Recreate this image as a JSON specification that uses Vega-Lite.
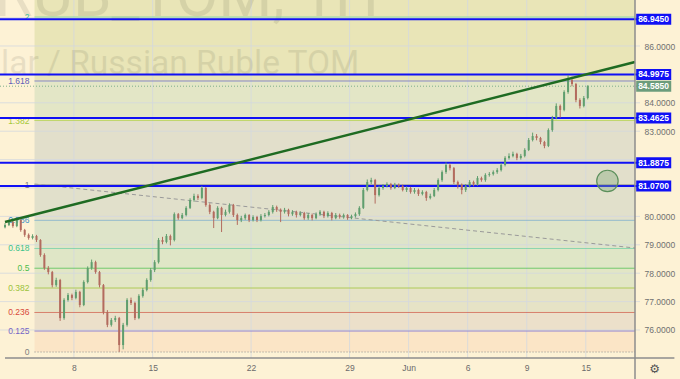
{
"$schema":"https://vega.github.io/schema/vega-lite/v6.json",
"width":640,"height":358,"autosize":"none",
"padding":{"left":0,"top":0,"right":40,"bottom":21},
"background":"#fdf2d5",
"config":{"view":{"stroke":null}},
"datasets":{
"one":[{}],
"bands":[
{"band":"b0","lo":75.225,"hi":75.962},
{"band":"b1","lo":75.962,"hi":76.617},
{"band":"b2","lo":76.617,"hi":77.478},
{"band":"b3","lo":77.478,"hi":78.174},
{"band":"b4","lo":78.174,"hi":78.870},
{"band":"b5","lo":78.870,"hi":79.861},
{"band":"b6","lo":79.861,"hi":81.123},
{"band":"b7","lo":81.123,"hi":83.376},
{"band":"b8","lo":83.376,"hi":84.768},
{"band":"b9","lo":84.768,"hi":87.62}
],
"fib":[
{"lvl":"0","p":75.225},
{"lvl":"0.125","p":75.962},
{"lvl":"0.236","p":76.617},
{"lvl":"0.382","p":77.478},
{"lvl":"0.5","p":78.174},
{"lvl":"0.618","p":78.870},
{"lvl":"0.786","p":79.861},
{"lvl":"1","p":81.123},
{"lvl":"1.382","p":83.376},
{"lvl":"1.618","p":84.768},
{"lvl":"2","p":87.021}
],
"dates":[
{"t":17.5,"lab":"8"},{"t":37.5,"lab":"15"},{"t":62.5,"lab":"22"},{"t":87.5,"lab":"29"},
{"t":102.5,"lab":"Jun"},{"t":117.5,"lab":"6"},{"t":132.5,"lab":"9"},{"t":147.5,"lab":"15"}
],
"grid":[{"p":76},{"p":77},{"p":78},{"p":79},{"p":80},{"p":81},{"p":82},{"p":83},{"p":84},{"p":85},{"p":86},{"p":87}],
"levels":[{"p":86.945},{"p":84.9975},{"p":83.4625},{"p":81.8875},{"p":81.07}],
"badges":[
{"p":86.945,"kind":"level"},{"p":84.9975,"kind":"level"},{"p":83.4625,"kind":"level"},
{"p":81.8875,"kind":"level"},{"p":81.07,"kind":"level"},{"p":84.585,"kind":"last"}
],
"candles":[
{"t":0,"o":79.62,"h":79.76,"l":79.58,"c":79.70},
{"t":1,"o":79.70,"h":79.86,"l":79.66,"c":79.80},
{"t":2,"o":79.80,"h":79.84,"l":79.60,"c":79.66},
{"t":3,"o":79.66,"h":79.92,"l":79.62,"c":79.87},
{"t":4,"o":79.87,"h":79.90,"l":79.46,"c":79.52},
{"t":5,"o":79.52,"h":79.56,"l":79.28,"c":79.35},
{"t":6,"o":79.35,"h":79.40,"l":79.18,"c":79.24},
{"t":7,"o":79.24,"h":79.37,"l":79.19,"c":79.31},
{"t":8,"o":79.31,"h":79.35,"l":79.10,"c":79.17},
{"t":9,"o":79.17,"h":79.20,"l":78.58,"c":78.64},
{"t":10,"o":78.64,"h":78.70,"l":78.12,"c":78.18},
{"t":11,"o":78.18,"h":78.25,"l":77.96,"c":78.04},
{"t":12,"o":78.04,"h":78.08,"l":77.50,"c":77.58},
{"t":13,"o":77.58,"h":77.84,"l":77.52,"c":77.76},
{"t":14,"o":77.76,"h":77.80,"l":76.32,"c":76.42},
{"t":15,"o":76.42,"h":77.12,"l":76.36,"c":77.06},
{"t":16,"o":77.06,"h":77.30,"l":77.00,"c":77.23},
{"t":17,"o":77.23,"h":77.28,"l":77.05,"c":77.13},
{"t":18,"o":77.13,"h":77.42,"l":77.08,"c":77.34},
{"t":19,"o":77.34,"h":77.38,"l":76.80,"c":76.88},
{"t":20,"o":76.88,"h":77.75,"l":76.84,"c":77.69},
{"t":21,"o":77.69,"h":78.24,"l":77.64,"c":78.18},
{"t":22,"o":78.18,"h":78.48,"l":78.12,"c":78.39},
{"t":23,"o":78.39,"h":78.44,"l":77.98,"c":78.04},
{"t":24,"o":78.04,"h":78.08,"l":77.50,"c":77.58},
{"t":25,"o":77.58,"h":77.62,"l":76.55,"c":76.63},
{"t":26,"o":76.63,"h":76.70,"l":76.10,"c":76.18},
{"t":27,"o":76.18,"h":76.42,"l":76.12,"c":76.35},
{"t":28,"o":76.35,"h":76.50,"l":76.28,"c":76.42},
{"t":29,"o":76.42,"h":76.46,"l":75.23,"c":75.47},
{"t":30,"o":75.47,"h":76.25,"l":75.32,"c":76.18},
{"t":31,"o":76.18,"h":77.12,"l":76.12,"c":77.06},
{"t":32,"o":77.06,"h":77.14,"l":76.88,"c":76.95},
{"t":33,"o":76.95,"h":77.00,"l":76.35,"c":76.42},
{"t":34,"o":76.42,"h":77.26,"l":76.38,"c":77.20},
{"t":35,"o":77.20,"h":77.48,"l":77.14,"c":77.41},
{"t":36,"o":77.41,"h":77.82,"l":77.36,"c":77.76},
{"t":37,"o":77.76,"h":78.18,"l":77.70,"c":78.11},
{"t":38,"o":78.11,"h":78.46,"l":78.04,"c":78.39},
{"t":39,"o":78.39,"h":79.24,"l":78.34,"c":79.17},
{"t":40,"o":79.17,"h":79.28,"l":79.02,"c":79.10},
{"t":41,"o":79.10,"h":79.38,"l":79.05,"c":79.31},
{"t":42,"o":79.31,"h":79.36,"l":78.98,"c":79.17},
{"t":43,"o":79.17,"h":80.14,"l":79.12,"c":80.08},
{"t":44,"o":80.08,"h":80.12,"l":79.88,"c":79.94},
{"t":45,"o":79.94,"h":80.12,"l":79.90,"c":80.05},
{"t":46,"o":80.05,"h":80.36,"l":80.00,"c":80.30},
{"t":47,"o":80.30,"h":80.64,"l":80.26,"c":80.58},
{"t":48,"o":80.58,"h":80.80,"l":80.52,"c":80.72},
{"t":49,"o":80.72,"h":80.78,"l":80.58,"c":80.65},
{"t":50,"o":80.65,"h":81.07,"l":80.60,"c":81.00},
{"t":51,"o":81.00,"h":81.04,"l":80.34,"c":80.40},
{"t":52,"o":80.40,"h":80.46,"l":80.08,"c":80.16},
{"t":53,"o":80.16,"h":80.20,"l":79.59,"c":79.94},
{"t":54,"o":79.94,"h":80.36,"l":79.90,"c":80.30},
{"t":55,"o":80.30,"h":80.34,"l":79.45,"c":80.05},
{"t":56,"o":80.05,"h":80.24,"l":80.00,"c":80.16},
{"t":57,"o":80.16,"h":80.46,"l":80.10,"c":80.40},
{"t":58,"o":80.40,"h":80.44,"l":79.98,"c":80.05},
{"t":59,"o":80.05,"h":80.10,"l":79.70,"c":79.87},
{"t":60,"o":79.87,"h":80.02,"l":79.80,"c":79.94},
{"t":61,"o":79.94,"h":80.10,"l":79.88,"c":80.05},
{"t":62,"o":80.05,"h":80.08,"l":79.80,"c":79.87},
{"t":63,"o":79.87,"h":80.04,"l":79.82,"c":79.98},
{"t":64,"o":79.98,"h":80.02,"l":79.80,"c":79.87},
{"t":65,"o":79.87,"h":80.08,"l":79.82,"c":80.01},
{"t":66,"o":80.01,"h":80.12,"l":79.96,"c":80.05},
{"t":67,"o":80.05,"h":80.22,"l":80.00,"c":80.16},
{"t":68,"o":80.16,"h":80.40,"l":80.10,"c":80.33},
{"t":69,"o":80.33,"h":80.38,"l":80.16,"c":80.23},
{"t":70,"o":80.23,"h":80.28,"l":79.80,"c":80.16},
{"t":71,"o":80.16,"h":80.30,"l":80.10,"c":80.23},
{"t":72,"o":80.23,"h":80.27,"l":80.00,"c":80.08},
{"t":73,"o":80.08,"h":80.22,"l":80.02,"c":80.16},
{"t":74,"o":80.16,"h":80.20,"l":79.96,"c":80.05},
{"t":75,"o":80.05,"h":80.18,"l":80.00,"c":80.12},
{"t":76,"o":80.12,"h":80.16,"l":79.88,"c":79.94},
{"t":77,"o":79.94,"h":80.12,"l":79.88,"c":80.05},
{"t":78,"o":80.05,"h":80.10,"l":79.86,"c":79.94},
{"t":79,"o":79.94,"h":80.14,"l":79.90,"c":80.08},
{"t":80,"o":80.08,"h":80.22,"l":80.02,"c":80.16},
{"t":81,"o":80.16,"h":80.20,"l":79.94,"c":80.01},
{"t":82,"o":80.01,"h":80.18,"l":79.96,"c":80.12},
{"t":83,"o":80.12,"h":80.16,"l":79.86,"c":79.94},
{"t":84,"o":79.94,"h":80.12,"l":79.90,"c":80.05},
{"t":85,"o":80.05,"h":80.10,"l":79.92,"c":79.98},
{"t":86,"o":79.98,"h":80.10,"l":79.92,"c":80.05},
{"t":87,"o":80.05,"h":80.08,"l":79.88,"c":79.94},
{"t":88,"o":79.94,"h":80.06,"l":79.90,"c":80.01},
{"t":89,"o":80.01,"h":80.14,"l":79.96,"c":80.08},
{"t":90,"o":80.08,"h":80.36,"l":80.02,"c":80.30},
{"t":91,"o":80.30,"h":81.00,"l":80.26,"c":80.93},
{"t":92,"o":80.93,"h":81.30,"l":80.88,"c":81.21},
{"t":93,"o":81.21,"h":81.36,"l":81.14,"c":81.28},
{"t":94,"o":81.28,"h":81.32,"l":80.45,"c":80.75},
{"t":95,"o":80.75,"h":81.08,"l":80.70,"c":81.00},
{"t":96,"o":81.00,"h":81.14,"l":80.94,"c":81.07},
{"t":97,"o":81.07,"h":81.20,"l":81.02,"c":81.14},
{"t":98,"o":81.14,"h":81.18,"l":80.94,"c":81.00},
{"t":99,"o":81.00,"h":81.18,"l":80.96,"c":81.11},
{"t":100,"o":81.11,"h":81.16,"l":81.00,"c":81.07},
{"t":101,"o":81.07,"h":81.12,"l":80.88,"c":80.93},
{"t":102,"o":80.93,"h":81.06,"l":80.86,"c":81.00},
{"t":103,"o":81.00,"h":81.04,"l":80.80,"c":80.86},
{"t":104,"o":80.86,"h":81.00,"l":80.80,"c":80.93},
{"t":105,"o":80.93,"h":80.98,"l":80.72,"c":80.79},
{"t":106,"o":80.79,"h":80.92,"l":80.74,"c":80.86},
{"t":107,"o":80.86,"h":80.90,"l":80.55,"c":80.65},
{"t":108,"o":80.65,"h":80.80,"l":80.60,"c":80.72},
{"t":109,"o":80.72,"h":81.00,"l":80.68,"c":80.93},
{"t":110,"o":80.93,"h":81.34,"l":80.88,"c":81.28},
{"t":111,"o":81.28,"h":81.62,"l":81.22,"c":81.56},
{"t":112,"o":81.56,"h":81.90,"l":81.50,"c":81.81},
{"t":113,"o":81.81,"h":81.86,"l":81.62,"c":81.70},
{"t":114,"o":81.70,"h":81.74,"l":81.14,"c":81.21},
{"t":115,"o":81.21,"h":81.26,"l":80.98,"c":81.11},
{"t":116,"o":81.11,"h":81.16,"l":80.78,"c":80.93},
{"t":117,"o":80.93,"h":81.14,"l":80.86,"c":81.07},
{"t":118,"o":81.07,"h":81.28,"l":81.02,"c":81.21},
{"t":119,"o":81.21,"h":81.26,"l":81.06,"c":81.14},
{"t":120,"o":81.14,"h":81.42,"l":81.08,"c":81.35},
{"t":121,"o":81.35,"h":81.40,"l":81.22,"c":81.28},
{"t":122,"o":81.28,"h":81.52,"l":81.22,"c":81.46},
{"t":123,"o":81.46,"h":81.56,"l":81.40,"c":81.49},
{"t":124,"o":81.49,"h":81.62,"l":81.44,"c":81.56},
{"t":125,"o":81.56,"h":81.70,"l":81.50,"c":81.63},
{"t":126,"o":81.63,"h":81.88,"l":81.58,"c":81.81},
{"t":127,"o":81.81,"h":82.12,"l":81.76,"c":82.06},
{"t":128,"o":82.06,"h":82.22,"l":82.00,"c":82.13},
{"t":129,"o":82.13,"h":82.28,"l":82.08,"c":82.20},
{"t":130,"o":82.20,"h":82.24,"l":81.98,"c":82.06},
{"t":131,"o":82.06,"h":82.20,"l":82.00,"c":82.13},
{"t":132,"o":82.13,"h":82.40,"l":82.08,"c":82.34},
{"t":133,"o":82.34,"h":82.76,"l":82.30,"c":82.69},
{"t":134,"o":82.69,"h":82.95,"l":82.64,"c":82.83},
{"t":135,"o":82.83,"h":82.90,"l":82.68,"c":82.76},
{"t":136,"o":82.76,"h":82.80,"l":82.54,"c":82.62},
{"t":137,"o":82.62,"h":82.66,"l":82.40,"c":82.48},
{"t":138,"o":82.48,"h":83.10,"l":82.44,"c":83.04},
{"t":139,"o":83.04,"h":83.54,"l":82.98,"c":83.47},
{"t":140,"o":83.47,"h":83.98,"l":83.42,"c":83.89},
{"t":141,"o":83.89,"h":83.94,"l":83.48,"c":83.75},
{"t":142,"o":83.75,"h":84.44,"l":83.70,"c":84.38},
{"t":143,"o":84.38,"h":84.98,"l":84.32,"c":84.80},
{"t":144,"o":84.80,"h":84.92,"l":84.58,"c":84.66},
{"t":145,"o":84.66,"h":84.70,"l":84.02,"c":84.10},
{"t":146,"o":84.10,"h":84.16,"l":83.80,"c":83.89},
{"t":147,"o":83.89,"h":84.24,"l":83.84,"c":84.17},
{"t":148,"o":84.17,"h":84.62,"l":84.12,"c":84.585}
]
},
"resolve":{"scale":{"fill":"independent"}},
"layer":[
{"data":{"name":"bands"},"mark":{"type":"rect"},
 "encoding":{
  "x":{"datum":7.5,"type":"quantitative","scale":{"domain":[0,160],"nice":false,"zero":false},
   "axis":{"orient":"bottom","values":[17.5,37.5,62.5,87.5,102.5,117.5,132.5,147.5],"labelExpr":"datum.value == 17.5 ? '8' : datum.value == 37.5 ? '15' : datum.value == 62.5 ? '22' : datum.value == 87.5 ? '29' : datum.value == 102.5 ? 'Jun' : datum.value == 117.5 ? '6' : datum.value == 132.5 ? '9' : '15'","ticks":false,"domain":false,"grid":false,"labelPadding":5,"labelFont":"Liberation Sans","labelFontSize":8.5,"labelColor":"#6b6b6b","title":null}},
  "x2":{"datum":160},
  "y":{"field":"lo","type":"quantitative","scale":{"domain":[75.014,87.62],"nice":false,"zero":false},
   "axis":{"orient":"right","values":[76,77,78,79,80,83,84,86],"format":".4f","ticks":false,"domain":false,"grid":false,"labelPadding":4,"labelFont":"Liberation Sans","labelFontSize":8.5,"labelColor":"#707070","title":null}},
  "y2":{"field":"hi"},
  "fill":{"field":"band","type":"nominal","legend":null,"scale":{"domain":["b0","b1","b2","b3","b4","b5","b6","b7","b8","b9"],"range":["#fbe5c6","#ece0ca","#e6e3c6","#e2e6c5","#dfe6c6","#dee4c9","#e1e0cb","#e2dfcb","#e3e6c6","#e9e5b7"]}}}},
{"data":{"name":"dates"},"mark":{"type":"rule","stroke":"#d3d8df","strokeWidth":1,"opacity":0.8},
 "encoding":{"x":{"field":"t","type":"quantitative"}}},
{"data":{"name":"grid"},"mark":{"type":"rule","stroke":"#d3d8df","strokeWidth":1,"opacity":0.8},
 "encoding":{"y":{"field":"p","type":"quantitative"}}},
{"data":{"name":"one"},"mark":{"type":"text","text":"USDRUB_TOM, 1H","font":"Roboto","fontSize":62,"align":"right","baseline":"alphabetic","fill":"#000000","opacity":0.08},
 "encoding":{"x":{"datum":95,"type":"quantitative"},"y":{"datum":87.074,"type":"quantitative"}}},
{"data":{"name":"one"},"mark":{"type":"text","text":"U.S. Dollar / Russian Ruble TOM","font":"Roboto","fontSize":33.5,"align":"right","baseline":"alphabetic","fill":"#000000","opacity":0.08},
 "encoding":{"x":{"datum":90,"type":"quantitative"},"y":{"datum":85.014,"type":"quantitative"}}},
{"data":{"name":"fib"},"mark":{"type":"rule","strokeWidth":1},
 "encoding":{
  "x":{"datum":7.5,"type":"quantitative"},"x2":{"datum":160},
  "y":{"field":"p","type":"quantitative"},
  "stroke":{"field":"lvl","type":"nominal","legend":null,"scale":{"domain":["0","0.125","0.236","0.382","0.5","0.618","0.786","1","1.382","1.618","2"],"range":["#8c8c8c","#8c7ed6","#d0604f","#a6c94a","#5cc45c","#6fd0a4","#7fb0cc","#9a9a9a","#b3d14e","#7b7bc9","#80d4a6"]}},
  "strokeDash":{"condition":{"test":"datum.lvl == '0'","value":[1,2]},"value":[1,0]}}},
{"data":{"name":"fib"},"mark":{"type":"text","align":"right","baseline":"middle","font":"Liberation Sans","fontSize":8.5},
 "encoding":{
  "x":{"datum":6.2,"type":"quantitative"},
  "y":{"field":"p","type":"quantitative"},
  "text":{"field":"lvl","type":"nominal"},
  "fill":{"field":"lvl","type":"nominal","legend":null,"scale":{"domain":["0","0.125","0.236","0.382","0.5","0.618","0.786","1","1.382","1.618","2"],"range":["#808080","#7466c6","#d84a3a","#9bc23a","#4cbd4c","#3cc28a","#3d92c8","#808080","#a5c83a","#6060b8","#3cc0a0"]}}}},
{"data":{"name":"one"},"mark":{"type":"rule","stroke":"#9a9a9a","strokeWidth":1,"strokeDash":[4,3]},
 "encoding":{"x":{"datum":7.5,"type":"quantitative"},"y":{"datum":81.141,"type":"quantitative"},"x2":{"datum":160},"y2":{"datum":78.887}}},
{"data":{"name":"one"},"mark":{"type":"rule","stroke":"#7fae8c","strokeWidth":1,"strokeDash":[1,2]},
 "encoding":{"y":{"datum":84.585,"type":"quantitative"}}},
{"data":{"name":"levels"},"mark":{"type":"rule","stroke":"#1010f5","strokeWidth":2},
 "encoding":{"y":{"field":"p","type":"quantitative"}}},
{"data":{"name":"candles"},"mark":{"type":"rule","strokeWidth":1},
 "encoding":{
  "x":{"field":"t","type":"quantitative"},
  "y":{"field":"l","type":"quantitative"},
  "y2":{"field":"h"},
  "stroke":{"condition":{"test":"datum.c >= datum.o","value":"#5f9e6e"},"value":"#b36b5e"}}},
{"data":{"name":"candles"},"mark":{"type":"bar","size":2},
 "encoding":{
  "x":{"field":"t","type":"quantitative"},
  "y":{"field":"o","type":"quantitative"},
  "y2":{"field":"c"},
  "fill":{"condition":{"test":"datum.c >= datum.o","value":"#5f9e6e"},"value":"#b36b5e"}}},
{"data":{"name":"one"},"mark":{"type":"rule","stroke":"#1e6b22","strokeWidth":2.5},
 "encoding":{"x":{"datum":0,"type":"quantitative"},"y":{"datum":79.803,"type":"quantitative"},"x2":{"datum":160},"y2":{"datum":85.437}}},
{"data":{"name":"one"},"mark":{"type":"point","shape":"circle","filled":true,"fill":"#7fa87a","fillOpacity":0.38,"stroke":"#5b8f5b","strokeWidth":1.2,"strokeOpacity":1,"size":460},
 "encoding":{"x":{"datum":153,"type":"quantitative"},"y":{"datum":81.247,"type":"quantitative"}}},
{"data":{"name":"one"},"mark":{"type":"rule","stroke":"#8c8c8c","strokeWidth":1.5},
 "encoding":{"x":{"datum":160,"type":"quantitative"},"y":{"datum":87.62,"type":"quantitative"},"y2":{"datum":74.27}}},
{"data":{"name":"one"},"mark":{"type":"rule","stroke":"#8c8c8c","strokeWidth":1.5},
 "encoding":{"x":{"datum":0,"type":"quantitative"},"x2":{"datum":170},"y":{"datum":75.014,"type":"quantitative"}}},
{"data":{"name":"badges"},"mark":{"type":"rule","strokeWidth":11,"strokeCap":"butt"},
 "encoding":{
  "x":{"datum":160.3,"type":"quantitative"},"x2":{"datum":169.2},
  "y":{"field":"p","type":"quantitative"},
  "stroke":{"condition":{"test":"datum.kind == 'last'","value":"#6c9c7c"},"value":"#1010f5"}}},
{"data":{"name":"badges"},"mark":{"type":"text","align":"center","baseline":"middle","font":"Liberation Sans","fontSize":8.5,"fontWeight":"bold","fill":"#ffffff"},
 "encoding":{
  "x":{"datum":164.7,"type":"quantitative"},
  "y":{"field":"p","type":"quantitative"},
  "text":{"field":"p","type":"quantitative","format":".4f"}}},
{"data":{"name":"one"},"mark":{"type":"text","text":"⚙","align":"center","baseline":"middle","font":"DejaVu Sans","fontSize":12,"fill":"#555555"},
 "encoding":{"x":{"datum":165,"type":"quantitative"},"y":{"datum":74.63,"type":"quantitative"}}}
]
}
